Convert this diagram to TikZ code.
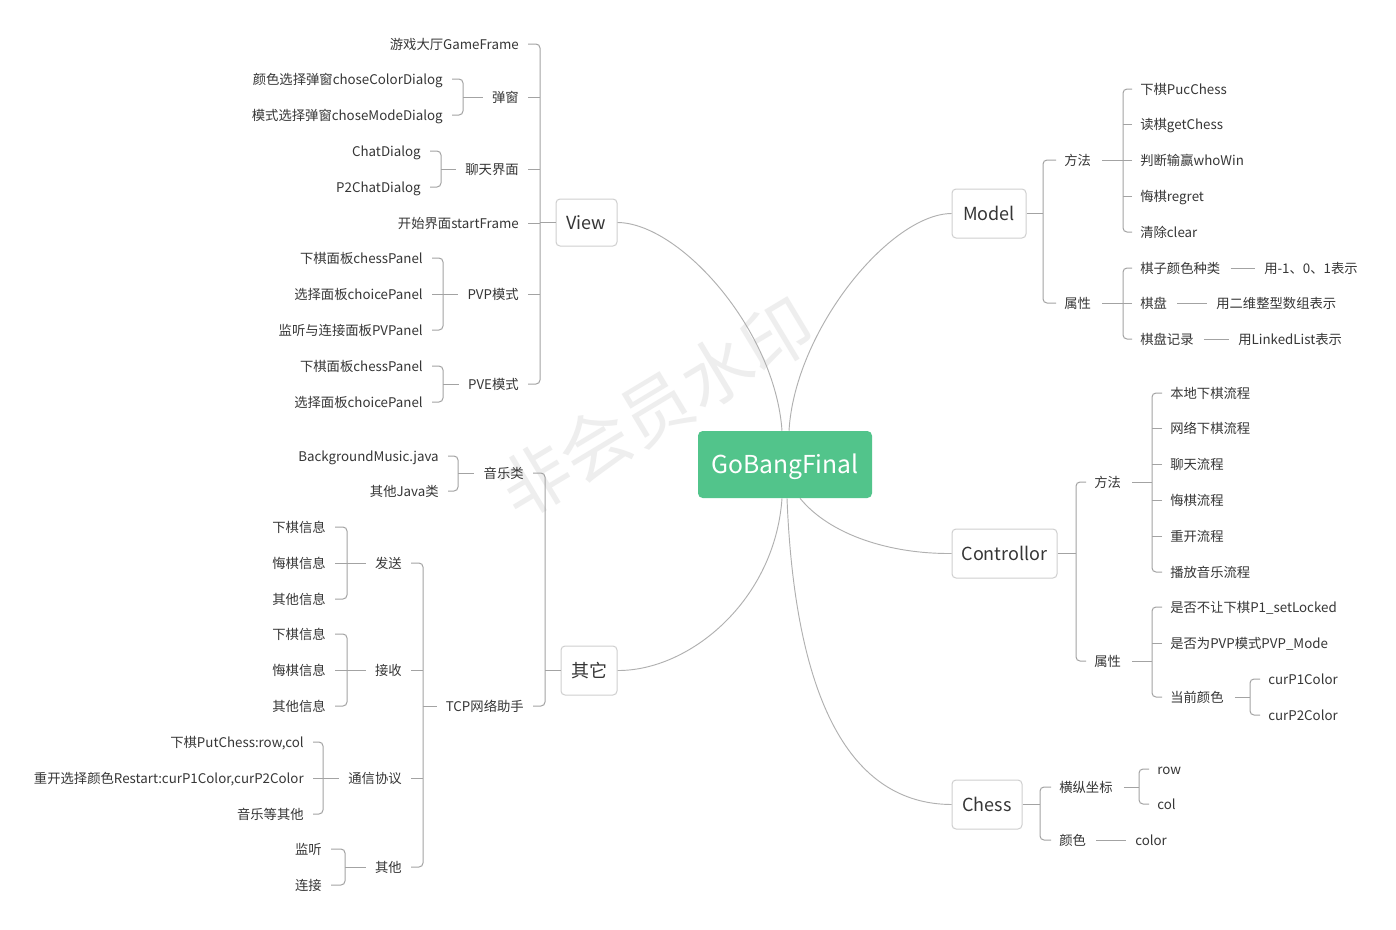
\documentclass[tikz,border=0pt]{standalone}
\usepackage{fontspec}
\setmainfont{Noto Sans CJK SC}
\usetikzlibrary{calc}
\definecolor{txt}{HTML}{363636}
\definecolor{lnc}{HTML}{A3A3A3}
\definecolor{crv}{HTML}{B0B0B0}
\definecolor{bord}{HTML}{CFCFCF}
\definecolor{rootc}{HTML}{52C48B}
\definecolor{wm}{HTML}{EEEEEE}
\newcommand\mmLB[3]{\draw[ln] ($(#2.east)+(9,0)$) -| (#1 |- #3.east) -- ($(#3.east)+(9,0)$);}
\newcommand\mmLT[2]{\draw[ln] ($(#2.east)+(9,0)$) -- (#1 |- #2.east);}
\newcommand\mmLS[2]{\draw[ln] (#1 |- #2.west) -- ($(#2.west)+(-9,0)$);}
\newcommand\mmRB[3]{\draw[ln] ($(#2.west)+(-8,0)$) -| (#1 |- #3.west) -- ($(#3.west)+(-8,0)$);}
\newcommand\mmRT[2]{\draw[ln] ($(#2.west)+(-8,0)$) -- (#1 |- #2.west);}
\newcommand\mmRS[2]{\draw[ln] ($(#2.east)+(11,0)$) -- (#1 |- #2.east);}
\newcommand\mmLeaf[2]{\draw[ln] ($(#1.east)+(10,0)$) -- ($(#2.west)+(-9,0)$);}
\begin{document}
\begin{tikzpicture}[x=0.75pt,y=-0.75pt,
  lbl/.style={inner sep=0pt, text=txt, font=\fontsize{10}{12}\selectfont, text height=9.5pt, text depth=1.5pt},
  ll/.style={lbl, anchor=east},
  rl/.style={lbl, anchor=west},
  ln/.style={draw=lnc, line width=0.75pt, rounded corners=3pt},
  crvs/.style={draw=crv, line width=0.7pt},
  topic/.style={draw=bord, line width=0.75pt, rounded corners=3pt, fill=white, inner sep=0pt, text=txt, font=\fontsize{13.5}{16}\selectfont, text height=12pt, text depth=1pt, minimum height=36.75pt},
  rootbox/.style={fill=rootc, rounded corners=3.5pt, inner sep=0pt, text=white, font=\fontsize{18.5}{22}\selectfont, text height=16pt, text depth=2pt, minimum width=130.5pt, minimum height=50.25pt}
]
\useasboundingbox (0,0) rectangle (1396,929);
\fill[white] (0,0) rectangle (1396,929);

% watermark
\node[text=wm, font=\fontsize{53}{58}\selectfont, rotate=31, inner sep=0pt] (wmark) at (656,408) {非会员水印};

% central and main topics
\node[rootbox] (root) at (785,464.5) {GoBangFinal};
\node[topic, minimum width=45.75pt, minimum height=35.25pt] (View) at (586.5,222.5) {View};
\node[topic, minimum width=42pt] (Other) at (589,670.5) {其它};
\node[topic, minimum width=55.5pt] (Model) at (989,213.5) {Model};
\node[topic, minimum width=78.75pt] (Ctrl) at (1004.5,553.5) {Controllor};
\node[topic, minimum width=52.5pt] (Chess) at (987,804.5) {Chess};

% curves
\draw[crvs] (View.east) .. controls (680,223) and (775,330) .. ($(root.north)+(-3,0)$);
\draw[crvs] (Model.west) .. controls (890,214) and (795,330) .. ($(root.north)+(4,0)$);
\draw[crvs] (Other.east) .. controls (690,671) and (775,600) .. ($(root.south)+(-3,0)$);
\draw[crvs] (Ctrl.west) .. controls (890,554) and (830,535) .. ($(root.south)+(15,0)$);
\draw[crvs] (Chess.west) .. controls (850,804) and (795,700) .. ($(root.south)+(2,0)$);

% ---------------- View ----------------
\node[ll] (v1) at (519,44) {游戏大厅GameFrame};
\node[ll] (v2) at (519,97) {弹窗};
\node[ll] (v3) at (519,169) {聊天界面};
\node[ll] (v4) at (519,223) {开始界面startFrame};
\node[ll] (v5) at (519,294) {PVP模式};
\node[ll] (v6) at (519,384) {PVE模式};
\node[ll] (v21) at (443,79) {颜色选择弹窗choseColorDialog};
\node[ll] (v22) at (443,115) {模式选择弹窗choseModeDialog};
\node[ll] (v31) at (421,151) {ChatDialog};
\node[ll] (v32) at (421,187) {P2ChatDialog};
\node[ll] (v51) at (423,258) {下棋面板chessPanel};
\node[ll] (v52) at (423,294) {选择面板choicePanel};
\node[ll] (v53) at (423,330) {监听与连接面板PVPanel};
\node[ll] (v61) at (423,366) {下棋面板chessPanel};
\node[ll] (v62) at (423,402) {选择面板choicePanel};
\coordinate (bV) at (540,0);
\coordinate (bV2) at (463,0);
\coordinate (bV3) at (441,0);
\coordinate (bV5) at (443,0);
\coordinate (bV6) at (443,0);
\draw[ln] (View.west) -- (bV |- View.west);
\mmLB{bV}{v1}{v6}
\mmLT{bV}{v2} \mmLT{bV}{v3} \mmLT{bV}{v4} \mmLT{bV}{v5}
\mmLB{bV2}{v21}{v22} \mmLS{bV2}{v2}
\mmLB{bV3}{v31}{v32} \mmLS{bV3}{v3}
\mmLB{bV5}{v51}{v53} \mmLT{bV5}{v52} \mmLS{bV5}{v5}
\mmLB{bV6}{v61}{v62} \mmLS{bV6}{v6}

% ---------------- Other ----------------
\node[ll] (o1) at (524,473) {音乐类};
\node[ll] (o2) at (524,706) {TCP网络助手};
\node[ll] (o11) at (439,456) {BackgroundMusic.java};
\node[ll] (o12) at (439,491) {其他Java类};
\node[ll] (t1) at (402,563) {发送};
\node[ll] (t2) at (402,670) {接收};
\node[ll] (t3) at (402,778) {通信协议};
\node[ll] (t4) at (402,867) {其他};
\node[ll] (t11) at (326,527) {下棋信息};
\node[ll] (t12) at (326,563) {悔棋信息};
\node[ll] (t13) at (326,599) {其他信息};
\node[ll] (t21) at (326,634) {下棋信息};
\node[ll] (t22) at (326,670) {悔棋信息};
\node[ll] (t23) at (326,706) {其他信息};
\node[ll] (t31) at (304,742) {下棋PutChess:row,col};
\node[ll] (t32) at (304,778) {重开选择颜色Restart:curP1Color,curP2Color};
\node[ll] (t33) at (304,814) {音乐等其他};
\node[ll] (t41) at (322,849) {监听};
\node[ll] (t42) at (322,885) {连接};
\coordinate (bO) at (545,0);
\coordinate (bO1) at (458,0);
\coordinate (bT) at (423,0);
\coordinate (bT1) at (347,0);
\coordinate (bT2) at (347,0);
\coordinate (bT3) at (323,0);
\coordinate (bT4) at (345,0);
\draw[ln] (Other.west) -- (bO |- Other.west);
\mmLB{bO}{o1}{o2}
\mmLB{bO1}{o11}{o12} \mmLS{bO1}{o1}
\mmLB{bT}{t1}{t4} \mmLT{bT}{t2} \mmLT{bT}{t3} \mmLS{bT}{o2}
\mmLB{bT1}{t11}{t13} \mmLT{bT1}{t12} \mmLS{bT1}{t1}
\mmLB{bT2}{t21}{t23} \mmLT{bT2}{t22} \mmLS{bT2}{t2}
\mmLB{bT3}{t31}{t33} \mmLT{bT3}{t32} \mmLS{bT3}{t3}
\mmLB{bT4}{t41}{t42} \mmLS{bT4}{t4}

% ---------------- Model ----------------
\node[rl] (m1) at (1064,160) {方法};
\node[rl] (m2) at (1064,303) {属性};
\node[rl] (m11) at (1140,89) {下棋PucChess};
\node[rl] (m12) at (1140,124) {读棋getChess};
\node[rl] (m13) at (1140,160) {判断输赢whoWin};
\node[rl] (m14) at (1140,196) {悔棋regret};
\node[rl] (m15) at (1140,232) {清除clear};
\node[rl] (m21) at (1140,268) {棋子颜色种类};
\node[rl] (m22) at (1140,303) {棋盘};
\node[rl] (m23) at (1140,339) {棋盘记录};
\node[rl] (m211) at (1264,268) {用-1、0、1表示};
\node[rl] (m221) at (1216,303) {用二维整型数组表示};
\node[rl] (m231) at (1238,339) {用LinkedList表示};
\coordinate (bM) at (1043,0);
\coordinate (bM1) at (1123,0);
\coordinate (bM2) at (1123,0);
\draw[ln] (Model.east) -- (bM |- Model.east);
\mmRB{bM}{m1}{m2}
\mmRB{bM1}{m11}{m15} \mmRT{bM1}{m12} \mmRT{bM1}{m13} \mmRT{bM1}{m14} \mmRS{bM1}{m1}
\mmRB{bM2}{m21}{m23} \mmRT{bM2}{m22} \mmRS{bM2}{m2}
\mmLeaf{m21}{m211}
\mmLeaf{m22}{m221}
\mmLeaf{m23}{m231}

% ---------------- Controllor ----------------
\node[rl] (c1) at (1094,482) {方法};
\node[rl] (c2) at (1094,661) {属性};
\node[rl] (c11) at (1170,393) {本地下棋流程};
\node[rl] (c12) at (1170,428) {网络下棋流程};
\node[rl] (c13) at (1170,464) {聊天流程};
\node[rl] (c14) at (1170,500) {悔棋流程};
\node[rl] (c15) at (1170,536) {重开流程};
\node[rl] (c16) at (1170,572) {播放音乐流程};
\node[rl] (c21) at (1170,607) {是否不让下棋P1\_setLocked};
\node[rl] (c22) at (1170,643) {是否为PVP模式PVP\_Mode};
\node[rl] (c23) at (1170,697) {当前颜色};
\node[rl] (c231) at (1268,679) {curP1Color};
\node[rl] (c232) at (1268,715) {curP2Color};
\coordinate (bC) at (1076,0);
\coordinate (bC1) at (1152,0);
\coordinate (bC2) at (1152,0);
\coordinate (bC23) at (1250,0);
\draw[ln] (Ctrl.east) -- (bC |- Ctrl.east);
\mmRB{bC}{c1}{c2}
\mmRB{bC1}{c11}{c16} \mmRT{bC1}{c12} \mmRT{bC1}{c13} \mmRT{bC1}{c14} \mmRT{bC1}{c15} \mmRS{bC1}{c1}
\mmRB{bC2}{c21}{c23} \mmRT{bC2}{c22} \mmRS{bC2}{c2}
\mmRB{bC23}{c231}{c232} \mmRS{bC23}{c23}

% ---------------- Chess ----------------
\node[rl] (h1) at (1059,787) {横纵坐标};
\node[rl] (h2) at (1059,840) {颜色};
\node[rl] (h11) at (1157,769) {row};
\node[rl] (h12) at (1157,804) {col};
\node[rl] (h21) at (1135,840) {color};
\coordinate (bH) at (1040,0);
\coordinate (bH1) at (1139,0);
\draw[ln] (Chess.east) -- (bH |- Chess.east);
\mmRB{bH}{h1}{h2}
\mmRB{bH1}{h11}{h12} \mmRS{bH1}{h1}
\mmLeaf{h2}{h21}
\end{tikzpicture}
\end{document}
